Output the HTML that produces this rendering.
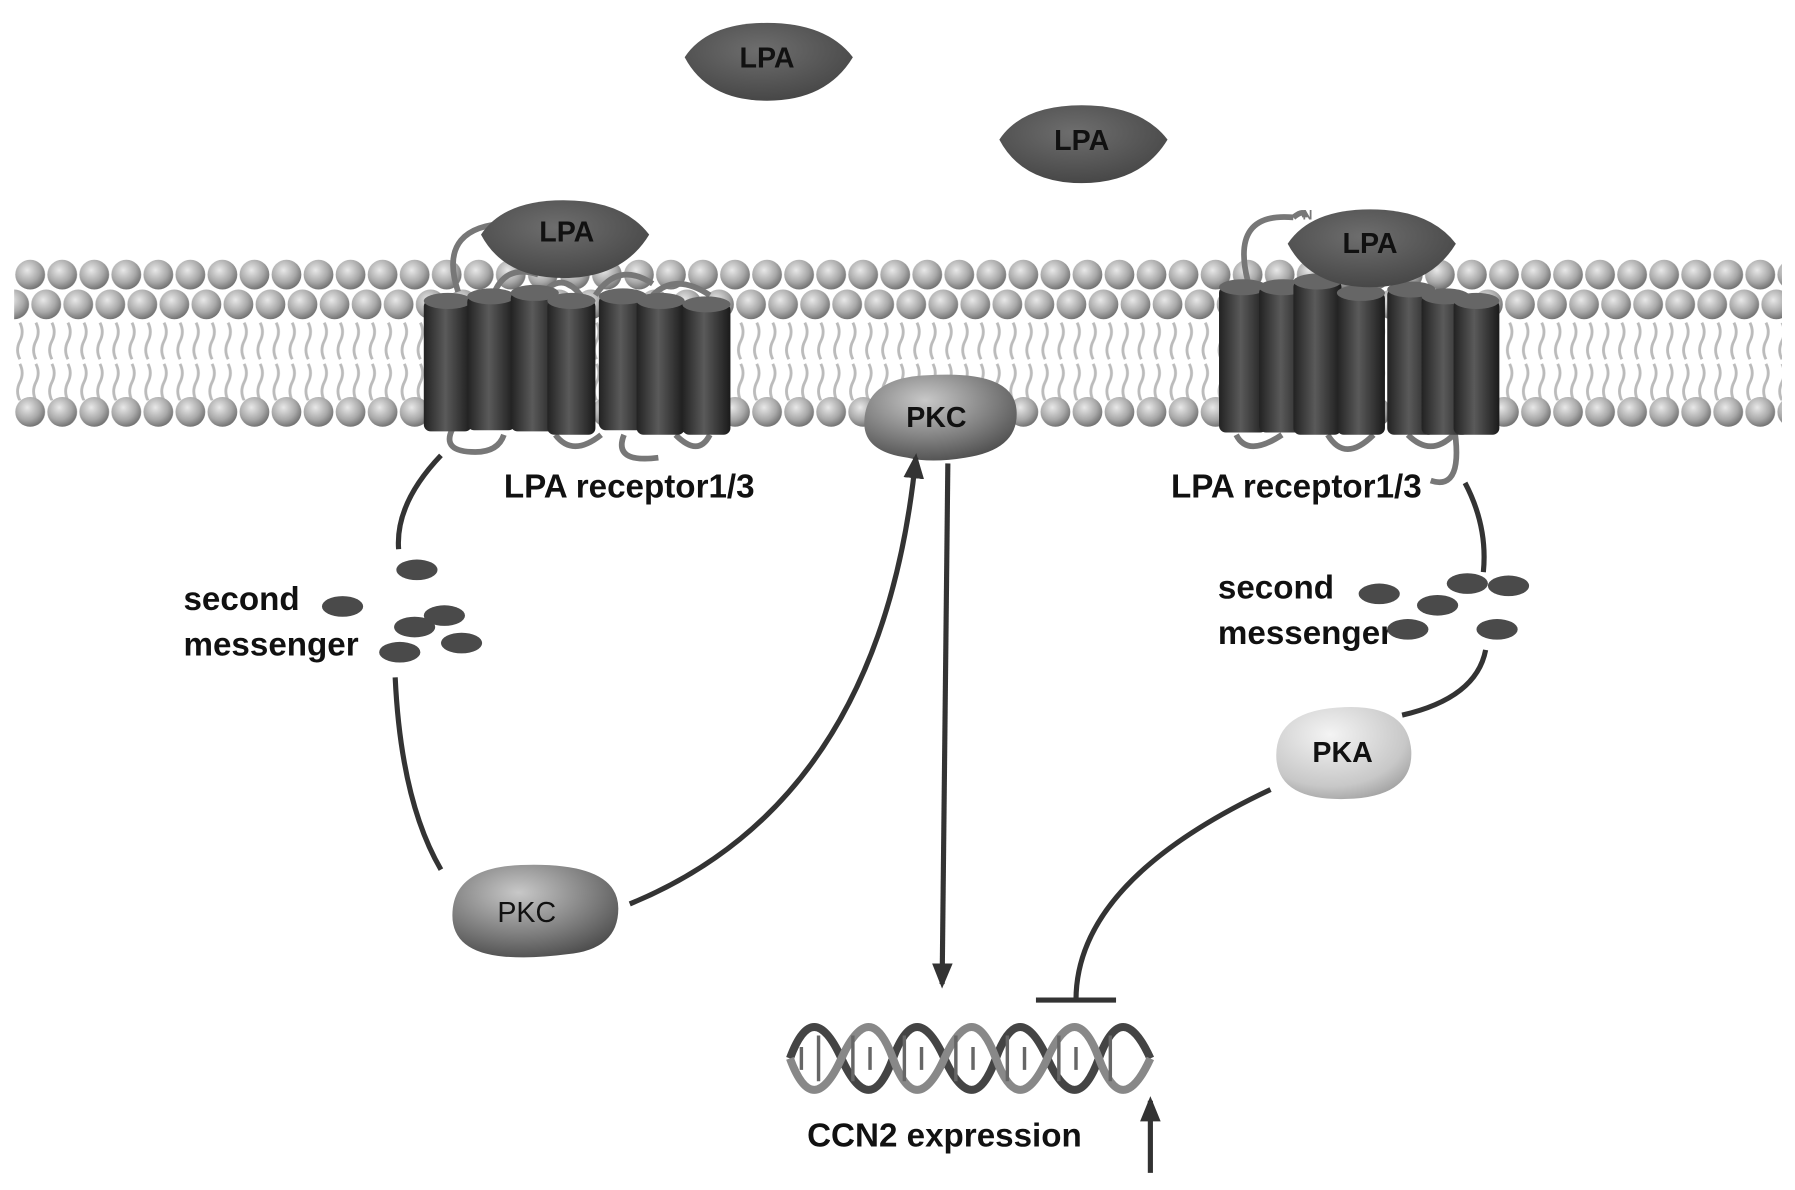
<!DOCTYPE html>
<html><head><meta charset="utf-8"><style>
html,body{margin:0;padding:0;background:#fff;}
svg{display:block;}
text{font-family:"Liberation Sans",Arial,sans-serif;font-weight:bold;}
</style></head><body>
<svg width="1795" height="1190" viewBox="0 0 1568 1040" xmlns="http://www.w3.org/2000/svg">
<defs>
<radialGradient id="bead" cx="0.4" cy="0.35" r="0.7">
<stop offset="0" stop-color="#e8e8e8"/><stop offset="0.6" stop-color="#a8a8a8"/><stop offset="1" stop-color="#6a6a6a"/></radialGradient>
<linearGradient id="cyl" x1="0" x2="1" y1="0" y2="0">
<stop offset="0" stop-color="#222"/><stop offset="0.45" stop-color="#5a5a5a"/><stop offset="1" stop-color="#1a1a1a"/></linearGradient>
<radialGradient id="pkc" cx="0.4" cy="0.3" r="0.8">
<stop offset="0" stop-color="#c8c8c8"/><stop offset="0.6" stop-color="#7a7a7a"/><stop offset="1" stop-color="#444"/></radialGradient>
<radialGradient id="pka" cx="0.4" cy="0.3" r="0.8">
<stop offset="0" stop-color="#f4f4f4"/><stop offset="0.7" stop-color="#c8c8c8"/><stop offset="1" stop-color="#999"/></radialGradient>
<radialGradient id="lpa" cx="0.45" cy="0.35" r="0.7">
<stop offset="0" stop-color="#6e6e6e"/><stop offset="1" stop-color="#444"/></radialGradient>
<pattern id="rowA" x="12" y="0" width="28" height="1040" patternUnits="userSpaceOnUse">
<circle cx="14" cy="240" r="13" fill="url(#bead)"/></pattern>
<pattern id="rowB" x="26" y="0" width="28" height="1040" patternUnits="userSpaceOnUse">
<circle cx="14" cy="266" r="13" fill="url(#bead)"/></pattern>
<pattern id="rowC" x="12" y="0" width="28" height="1040" patternUnits="userSpaceOnUse">
<circle cx="14" cy="360" r="13" fill="url(#bead)"/></pattern>
<pattern id="tails" x="12" y="0" width="14" height="1040" patternUnits="userSpaceOnUse">
<path d="M5 282 q4 8 0 16 q-4 8 0 16" stroke="#bbb" stroke-width="2.5" fill="none"/>
<path d="M5 318 q4 8 0 16 q-4 8 0 16" stroke="#bbb" stroke-width="2.5" fill="none"/>
</pattern>
<marker id="ar" markerWidth="22" markerHeight="22" refX="18" refY="11" orient="auto" markerUnits="userSpaceOnUse" viewBox="0 0 22 22">
<path d="M0 2 L22 11 L0 20 Z" fill="#333"/></marker>
</defs>
<rect width="1568" height="1040" fill="#fff"/>
<rect x="12" y="280" width="1545" height="70" fill="url(#tails)"/>
<rect x="12" y="225" width="1545" height="30" fill="url(#rowA)"/>
<rect x="12" y="251" width="1545" height="30" fill="url(#rowB)"/>
<rect x="12" y="345" width="1545" height="30" fill="url(#rowC)"/>

<g stroke="#777" stroke-width="5" fill="none">
<path d="M400 255 q-20 -60 50 -60"/><path d="M430 260 q10 -30 40 -20 M470 262 q20 -30 40 0 M520 258 q20 -30 50 -10 M570 258 q20 -20 50 0"/>
<path d="M395 375 q-10 20 20 20 q20 0 25 -15 M485 380 q15 20 40 0 M545 380 q-10 25 30 20 M590 380 q20 20 30 0"/>
</g>
<g>
<rect x="370" y="262" width="42" height="115" rx="6" fill="url(#cyl)"/><ellipse cx="391" cy="263" rx="21" ry="7" fill="#666"/>
<rect x="408" y="258" width="42" height="118" rx="6" fill="url(#cyl)"/><ellipse cx="429" cy="259" rx="21" ry="7" fill="#666"/>
<rect x="446" y="255" width="42" height="122" rx="6" fill="url(#cyl)"/><ellipse cx="467" cy="256" rx="21" ry="7" fill="#666"/>
<rect x="478" y="262" width="42" height="118" rx="6" fill="url(#cyl)"/><ellipse cx="499" cy="263" rx="21" ry="7" fill="#666"/>
<rect x="523" y="258" width="42" height="118" rx="6" fill="url(#cyl)"/><ellipse cx="544" cy="259" rx="21" ry="7" fill="#666"/>
<rect x="556" y="262" width="42" height="118" rx="6" fill="url(#cyl)"/><ellipse cx="577" cy="263" rx="21" ry="7" fill="#666"/>
<rect x="596" y="265" width="42" height="115" rx="6" fill="url(#cyl)"/><ellipse cx="617" cy="266" rx="21" ry="7" fill="#666"/>
</g>
<g stroke="#777" stroke-width="5" fill="none">
<path d="M1090 245 q-15 -60 40 -55 M1130 190 q10 -8 10 0"/>
<path d="M1250 420 q30 10 20 -50 M1080 380 q10 20 40 0 M1160 380 q15 25 40 0 M1230 380 q20 20 40 0"/>
</g>
<text x="1138" y="192" font-size="12" fill="#777">N</text>
<g>
<rect x="1065" y="250" width="42" height="128" rx="6" fill="url(#cyl)"/><ellipse cx="1086" cy="251" rx="21" ry="7" fill="#666"/>
<rect x="1100" y="250" width="42" height="128" rx="6" fill="url(#cyl)"/><ellipse cx="1121" cy="251" rx="21" ry="7" fill="#666"/>
<rect x="1130" y="245" width="42" height="135" rx="6" fill="url(#cyl)"/><ellipse cx="1151" cy="246" rx="21" ry="7" fill="#666"/>
<rect x="1168" y="255" width="42" height="125" rx="6" fill="url(#cyl)"/><ellipse cx="1189" cy="256" rx="21" ry="7" fill="#666"/>
<rect x="1212" y="252" width="42" height="128" rx="6" fill="url(#cyl)"/><ellipse cx="1233" cy="253" rx="21" ry="7" fill="#666"/>
<rect x="1242" y="258" width="42" height="122" rx="6" fill="url(#cyl)"/><ellipse cx="1263" cy="259" rx="21" ry="7" fill="#666"/>
<rect x="1270" y="262" width="40" height="118" rx="6" fill="url(#cyl)"/><ellipse cx="1290" cy="263" rx="20" ry="7" fill="#666"/>
</g>

<g fill="url(#lpa)">
<path d="M598 50 q20 -30 72 -30 q52 0 75 30 q-23 38 -75 38 q-52 0 -72 -38z"/>
<path d="M873 122 q20 -30 72 -30 q52 0 75 30 q-23 38 -75 38 q-52 0 -72 -38z"/>
<path d="M420 205 q20 -30 72 -30 q52 0 75 30 q-23 38 -75 38 q-52 0 -72 -38z"/>
<path d="M1125 213 q20 -30 72 -30 q52 0 75 30 q-23 38 -75 38 q-52 0 -72 -38z"/>
</g>
<g font-size="25" fill="#111" text-anchor="middle">
<text x="670" y="59">LPA</text><text x="945" y="131">LPA</text>
<text x="495" y="211">LPA</text><text x="1197" y="221">LPA</text>
</g>

<path d="M755 370 q0 -40 55 -42 q75 -5 78 30 q3 35 -45 42 q-30 5 -50 0 q-38 -5 -38 -30z" fill="url(#pkc)"/>
<text x="818" y="373" font-size="25" text-anchor="middle" fill="#111">PKC</text>

<g font-size="29" fill="#111">
<text x="440" y="435">LPA receptor1/3</text>
<text x="1023" y="435">LPA receptor1/3</text>
<text x="160" y="533">second</text><text x="160" y="573">messenger</text>
<text x="1064" y="523">second</text><text x="1064" y="563">messenger</text>
<text x="705" y="1002">CCN2 expression</text>
</g>

<g fill="#4a4a4a">
<ellipse cx="364" cy="498" rx="18" ry="9"/><ellipse cx="299" cy="530" rx="18" ry="9"/>
<ellipse cx="362" cy="548" rx="18" ry="9"/><ellipse cx="388" cy="538" rx="18" ry="9"/>
<ellipse cx="403" cy="562" rx="18" ry="9"/><ellipse cx="349" cy="570" rx="18" ry="9"/>
<ellipse cx="1282" cy="510" rx="18" ry="9"/><ellipse cx="1318" cy="512" rx="18" ry="9"/>
<ellipse cx="1205" cy="519" rx="18" ry="9"/><ellipse cx="1256" cy="529" rx="18" ry="9"/>
<ellipse cx="1230" cy="550" rx="18" ry="9"/><ellipse cx="1308" cy="550" rx="18" ry="9"/>
</g>

<g stroke="#333" stroke-width="4.5" fill="none">
<path d="M385 398 Q345 440 348 480"/>
<path d="M345 592 Q350 700 385 760"/>
<path d="M550 790 Q770 700 800 400" marker-end="url(#ar)"/>
<path d="M828 405 L823 860" marker-end="url(#ar)"/>
<path d="M1280 422 Q1300 460 1296 500"/>
<path d="M1298 568 Q1290 610 1225 625"/>
<path d="M1110 690 Q940 770 940 874"/>
<path d="M905 874 L975 874"/>
<path d="M1005 1025 L1005 962" marker-end="url(#ar)"/>
</g>

<path d="M395 800 q0 -42 60 -44 q85 -3 85 38 q0 36 -45 40 q-30 4 -55 2 q-45 -4 -45 -36z" fill="url(#pkc)"/>
<text x="460" y="806" font-size="25" text-anchor="middle" fill="#111" style="font-weight:normal">PKC</text>

<path d="M1115 660 q0 -40 60 -42 q55 -2 58 38 q2 38 -50 42 q-68 4 -68 -38z" fill="url(#pka)"/>
<text x="1173" y="666" font-size="25" text-anchor="middle" fill="#111">PKA</text>

<g fill="none" stroke-width="7">
<path d="M690 925 q20 -55 45 0 t45 0 t45 0 t45 0 t45 0 t45 0 t45 0" stroke="#444"/>
<path d="M690 925 q20 55 45 0 t45 0 t45 0 t45 0 t45 0 t45 0 t45 0" stroke="#888"/>
</g>
<g stroke="#666" stroke-width="3">
<path d="M700 915 v20 M715 905 v40 M745 905 v40 M760 915 v20 M790 905 v40 M805 915 v20 M835 905 v40 M850 915 v20 M880 905 v40 M895 915 v20 M925 905 v40 M940 915 v20 M970 905 v40"/>
</g>
</svg>
</body></html>
